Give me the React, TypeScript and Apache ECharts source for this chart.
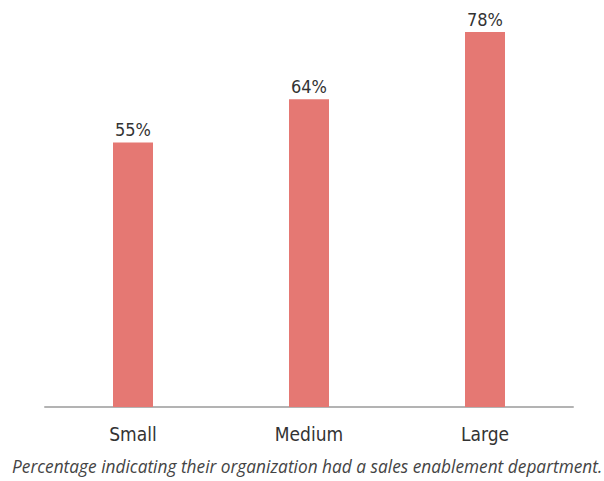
import React, { useEffect, useRef } from "react";
import * as echarts from "echarts";

const categories = ["Small", "Medium", "Large"];
const values = [55, 64, 78];
const caption = "Percentage indicating their organization had a sales enablement department.";

const NARROW = "'DejaVu Sans Condensed', 'Liberation Sans', sans-serif";

export default function App() {
  const ref = useRef<HTMLDivElement>(null);
  useEffect(() => {
    document.body.style.margin = "0";
    if (!ref.current) return;
    const chart = echarts.init(ref.current, null, { renderer: "svg" });
    chart.setOption({
      animation: false,
      backgroundColor: "#ffffff",
      grid: { left: 45, right: 31, top: 32, bottom: 74, containLabel: false },
      title: {
        text: caption,
        left: 12,
        top: 458,
        padding: 0,
        textStyle: {
          fontFamily: "'Open Sans', sans-serif",
          fontStyle: "italic",
          fontWeight: "normal",
          fontSize: 17.3,
          color: "#444444",
        },
      },
      xAxis: {
        type: "category",
        data: categories,
        axisLine: { show: true, lineStyle: { color: "#b3b3b3", width: 2 } },
        axisTick: { show: false },
        axisLabel: {
          margin: 17,
          fontFamily: NARROW,
          fontSize: 19,
          color: "#333333",
        },
      },
      yAxis: {
        type: "value",
        min: 0,
        max: "dataMax",
        show: false,
        splitLine: { show: false },
      },
      series: [
        {
          type: "bar",
          data: values,
          barWidth: 40,
          itemStyle: { color: "#e57873" },
          label: {
            show: true,
            position: "top",
            distance: 4,
            formatter: "{c}%",
            fontFamily: NARROW,
            fontSize: 18,
            color: "#333333",
          },
        },
      ],
    });
    return () => chart.dispose();
  }, []);
  return <div ref={ref} style={{ width: 604, height: 481 }} />;
}
